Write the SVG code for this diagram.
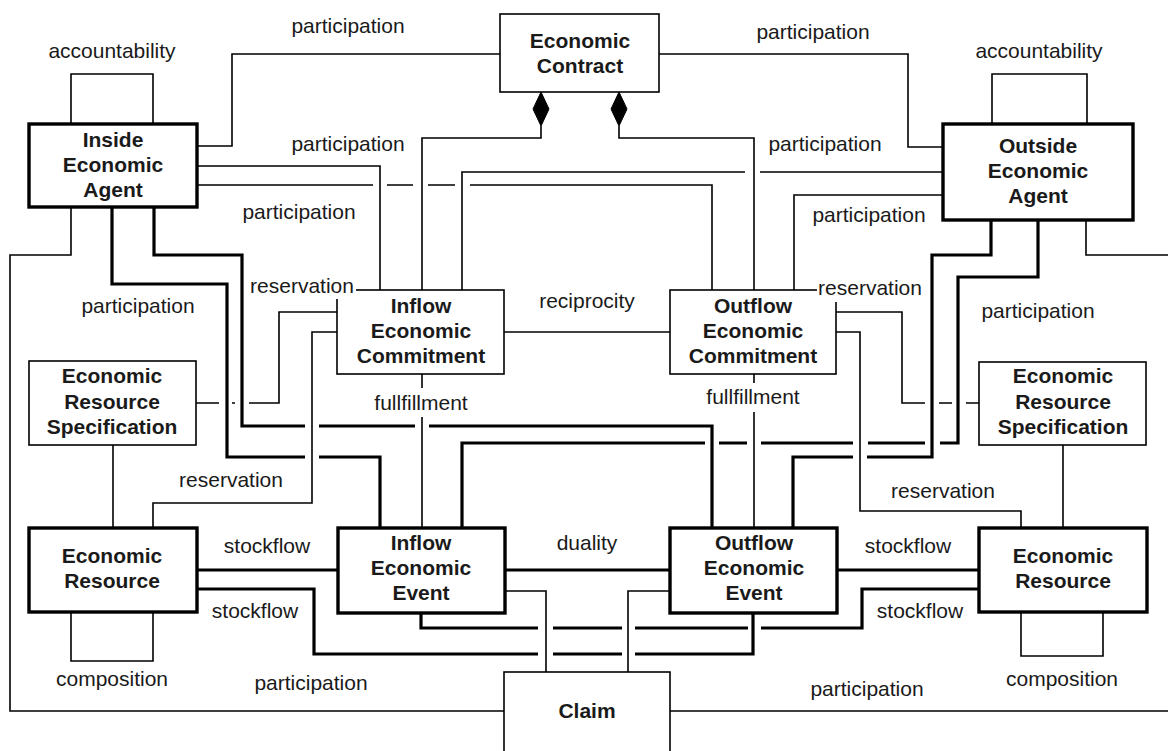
<svg xmlns="http://www.w3.org/2000/svg" width="1168" height="751" viewBox="0 0 1168 751">
<style>
.bg{fill:#fff}
.n1{fill:#fff;stroke:#000;stroke-width:1.6}
.n2{fill:#fff;stroke:#000;stroke-width:3.4}
.nt{font-family:"Liberation Sans",Arial,sans-serif;font-size:21px;font-weight:bold;fill:#1a1a1a;text-anchor:middle}
.lb{font-family:"Liberation Sans",Arial,sans-serif;font-size:21px;fill:#1a1a1a;text-anchor:middle}
.c1{fill:none;stroke:#000;stroke-width:1.6}
.c2{fill:none;stroke:#000;stroke-width:3.2}
.dm{fill:#000;stroke:#000;stroke-width:1}
</style>
<rect class="bg" x="0" y="0" width="1168" height="751"/>
<g id="connectors">
<path class="c1" d="M71,124 V74 H153 V124"/>
<path class="c1" d="M992,124 V74 H1087 V124"/>
<path class="c1" d="M197,146 H232 V54 H500"/>
<path class="c1" d="M659,54 H908 V147 H943"/>
<path class="c1" d="M541,126 V138 H422 V290"/>
<path class="c1" d="M619,126 V138 H754 V290"/>
<polygon class="dm" points="541,92 549,109 541,126 533,109"/>
<polygon class="dm" points="619,92 627,109 619,126 611,109"/>
<path class="c1" d="M197,166 H380 V290"/>
<path class="c1" d="M197,185 H373 M387,185 H413 M428,185 H455 M470,185 H712 V290"/>
<path class="c1" d="M943,172 H760 M745,172 H462 V290"/>
<path class="c1" d="M943,195 H794 V290"/>
<path class="c1" d="M71,207 V255 H10 V711 H504"/>
<path class="c1" d="M1086,220 V255 H1168"/>
<path class="c1" d="M670,711 H1168"/>
<path class="c2" d="M112,207 V284 H227 V457 H305 M319,457 H380 V528"/>
<path class="c2" d="M154,207 V255 H242 V426 H305 M319,426 H415 M429,426 H712 V528"/>
<path class="c2" d="M991,220 V255 H932 V457 H867 M853,457 H793 V528"/>
<path class="c2" d="M1038,220 V277 H958 V443 H940 M925,443 H868 M853,443 H761 M747,443 H719 M705,443 H462 V528"/>
<path class="c1" d="M504,332 H670"/>
<path class="c1" d="M422,374 V388 M422,417 V528"/>
<path class="c1" d="M754,374 V383 M754,412 V528"/>
<path class="c1" d="M337,312 H279 V403 H249 M235,403 H232 M219,403 H196"/>
<path class="c1" d="M337,332 H312 V503 H153 V528"/>
<path class="c1" d="M836,312 H902 V403 H925 M939,403 H952 M966,403 H979"/>
<path class="c1" d="M836,332 H860 V511 H1021 V528"/>
<path class="c1" d="M113,445 V528"/>
<path class="c1" d="M1063,445 V528"/>
<path class="c1" d="M71,612 V661 H153 V612"/>
<path class="c1" d="M1021,612 V656 H1103 V612"/>
<path class="c2" d="M197,570 H338"/>
<path class="c2" d="M837,570 H979"/>
<path class="c2" d="M505,570 H670"/>
<path class="c2" d="M197,589 H314 V654 H538 M553,654 H622 M635,654 H753 V612"/>
<path class="c2" d="M421,613 V628 H538 M553,628 H622 M635,628 H748 M761,628 H862 V589 H979"/>
<path class="c1" d="M505,591 H546 V672"/>
<path class="c1" d="M670,591 H628 V672"/>
</g>
<g id="economic-contract">
<rect class="n1" x="500" y="14" width="159" height="78"/>
<text class="nt" x="580" y="48">Economic</text>
<text class="nt" x="580" y="73">Contract</text>
</g>
<g id="inside-agent">
<rect class="n2" x="29" y="124" width="168" height="83"/>
<text class="nt" x="113" y="147">Inside</text>
<text class="nt" x="113" y="172">Economic</text>
<text class="nt" x="113" y="197">Agent</text>
</g>
<g id="outside-agent">
<rect class="n2" x="943" y="124" width="190" height="96"/>
<text class="nt" x="1038" y="153">Outside</text>
<text class="nt" x="1038" y="178">Economic</text>
<text class="nt" x="1038" y="203">Agent</text>
</g>
<g id="inflow-commitment">
<rect class="n1" x="337" y="290" width="167" height="84"/>
<text class="nt" x="421" y="313">Inflow</text>
<text class="nt" x="421" y="338">Economic</text>
<text class="nt" x="421" y="363">Commitment</text>
</g>
<g id="outflow-commitment">
<rect class="n1" x="670" y="290" width="166" height="84"/>
<text class="nt" x="753" y="313">Outflow</text>
<text class="nt" x="753" y="338">Economic</text>
<text class="nt" x="753" y="363">Commitment</text>
</g>
<g id="ers-left">
<rect class="n1" x="29" y="361" width="167" height="84"/>
<text class="nt" x="112" y="383">Economic</text>
<text class="nt" x="112" y="409">Resource</text>
<text class="nt" x="112" y="434">Specification</text>
</g>
<g id="ers-right">
<rect class="n1" x="979" y="362" width="167" height="83"/>
<text class="nt" x="1063" y="383">Economic</text>
<text class="nt" x="1063" y="409">Resource</text>
<text class="nt" x="1063" y="434">Specification</text>
</g>
<g id="resource-left">
<rect class="n2" x="29" y="528" width="168" height="84"/>
<text class="nt" x="112" y="563">Economic</text>
<text class="nt" x="112" y="588">Resource</text>
</g>
<g id="resource-right">
<rect class="n2" x="979" y="528" width="168" height="84"/>
<text class="nt" x="1063" y="563">Economic</text>
<text class="nt" x="1063" y="588">Resource</text>
</g>
<g id="inflow-event">
<rect class="n2" x="338" y="528" width="167" height="85"/>
<text class="nt" x="421" y="550">Inflow</text>
<text class="nt" x="421" y="575">Economic</text>
<text class="nt" x="421" y="600">Event</text>
</g>
<g id="outflow-event">
<rect class="n2" x="670" y="528" width="167" height="85"/>
<text class="nt" x="754" y="550">Outflow</text>
<text class="nt" x="754" y="575">Economic</text>
<text class="nt" x="754" y="600">Event</text>
</g>
<g id="claim">
<rect class="n1" x="504" y="672" width="166" height="100"/>
<text class="nt" x="587" y="718">Claim</text>
</g>
<g id="labels">
<text class="lb" x="112" y="58">accountability</text>
<text class="lb" x="1039" y="58">accountability</text>
<text class="lb" x="348" y="33">participation</text>
<text class="lb" x="813" y="39">participation</text>
<text class="lb" x="348" y="151">participation</text>
<text class="lb" x="825" y="151">participation</text>
<text class="lb" x="299" y="219">participation</text>
<text class="lb" x="869" y="222">participation</text>
<text class="lb" x="138" y="313">participation</text>
<text class="lb" x="1038" y="318">participation</text>
<rect class="bg" x="248" y="278" width="108" height="21"/>
<text class="lb" x="302" y="293">reservation</text>
<rect class="bg" x="817" y="280" width="108" height="22"/>
<text class="lb" x="870" y="295">reservation</text>
<text class="lb" x="587" y="308">reciprocity</text>
<text class="lb" x="421" y="410">fullfillment</text>
<text class="lb" x="753" y="404">fullfillment</text>
<text class="lb" x="231" y="487">reservation</text>
<text class="lb" x="943" y="498">reservation</text>
<text class="lb" x="267" y="553">stockflow</text>
<text class="lb" x="587" y="550">duality</text>
<text class="lb" x="908" y="553">stockflow</text>
<text class="lb" x="255" y="618">stockflow</text>
<text class="lb" x="920" y="618">stockflow</text>
<text class="lb" x="112" y="686">composition</text>
<text class="lb" x="1062" y="686">composition</text>
<text class="lb" x="311" y="690">participation</text>
<text class="lb" x="867" y="696">participation</text>
</g>
</svg>
